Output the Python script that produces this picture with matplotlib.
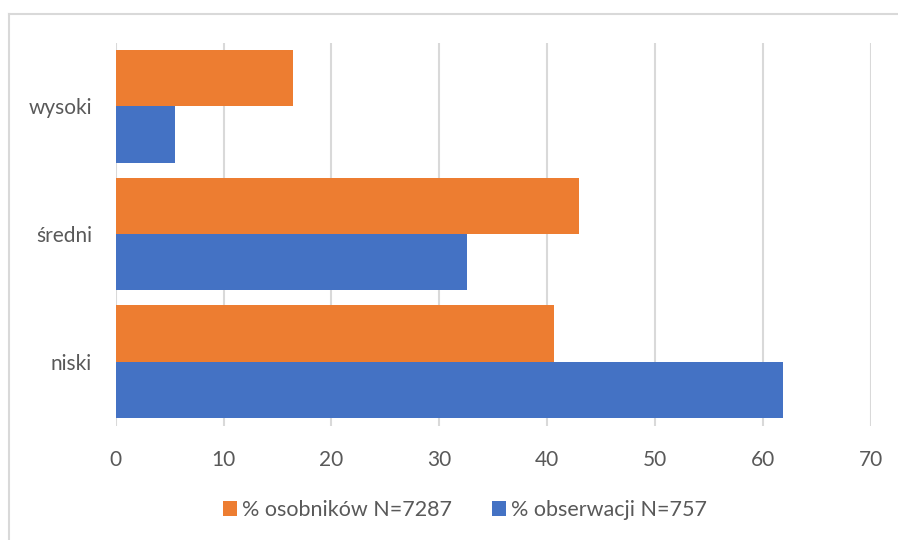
import matplotlib
matplotlib.use("Agg")
import matplotlib.pyplot as plt
import numpy as np
from matplotlib.lines import Line2D

categories = ["niski", "średni", "wysoki"]
osobniki = [40.6, 42.9, 16.4]      # % osobników N=7287
obserwacje = [61.8, 32.6, 5.5]     # % obserwacji N=757
x_ticks = [0, 10, 20, 30, 40, 50, 60, 70]

ORANGE = "#ED7D31"
BLUE = "#4472C4"
GRID = "#D9D9D9"
TEXT = "#595959"

plt.rcParams['font.family'] = ['Lato', 'DejaVu Sans']

fig = plt.figure(figsize=(8.98, 5.40), dpi=100)
W, H = 898, 540
ax = fig.add_axes([115.7 / W, 1 - 425.5 / H, (871 - 115.7) / W, (425.5 - 42.5) / H])

y = np.arange(len(categories))
h = 0.44
ax.barh(y + h / 2, osobniki, height=h, color=ORANGE, label="% osobników N=7287", zorder=3)
ax.barh(y - h / 2, obserwacje, height=h, color=BLUE, label="% obserwacji N=757", zorder=3)

ax.set_xlim(0, 70)
ax.set_ylim(-0.5, 2.5)
ax.set_xticks(x_ticks)
ax.set_yticks(y)
ax.set_yticklabels(categories)
ax.xaxis.grid(True, color=GRID, linewidth=1.5, zorder=0)
ax.tick_params(axis="both", length=0, labelsize=15, colors=TEXT)
ax.tick_params(axis="x", pad=18)
ax.tick_params(axis="y", pad=17)
for s in ax.spines.values():
    s.set_visible(False)

fig.legend(loc="center", bbox_to_anchor=(465 / W, 1 - 510 / H), ncol=2, frameon=False,
           fontsize=15.5, labelcolor=TEXT, handlelength=0.65, handleheight=0.65,
           handletextpad=0.25, columnspacing=1.85)

# outer chart border (only top and left edges are visible in the crop)
fig.add_artist(Line2D([9 / W, 1], [1 - 14 / H, 1 - 14 / H], color=GRID, linewidth=1.5))
fig.add_artist(Line2D([9 / W, 9 / W], [0, 1 - 14 / H], color=GRID, linewidth=1.5))

fig.savefig("out.png", dpi=100)
